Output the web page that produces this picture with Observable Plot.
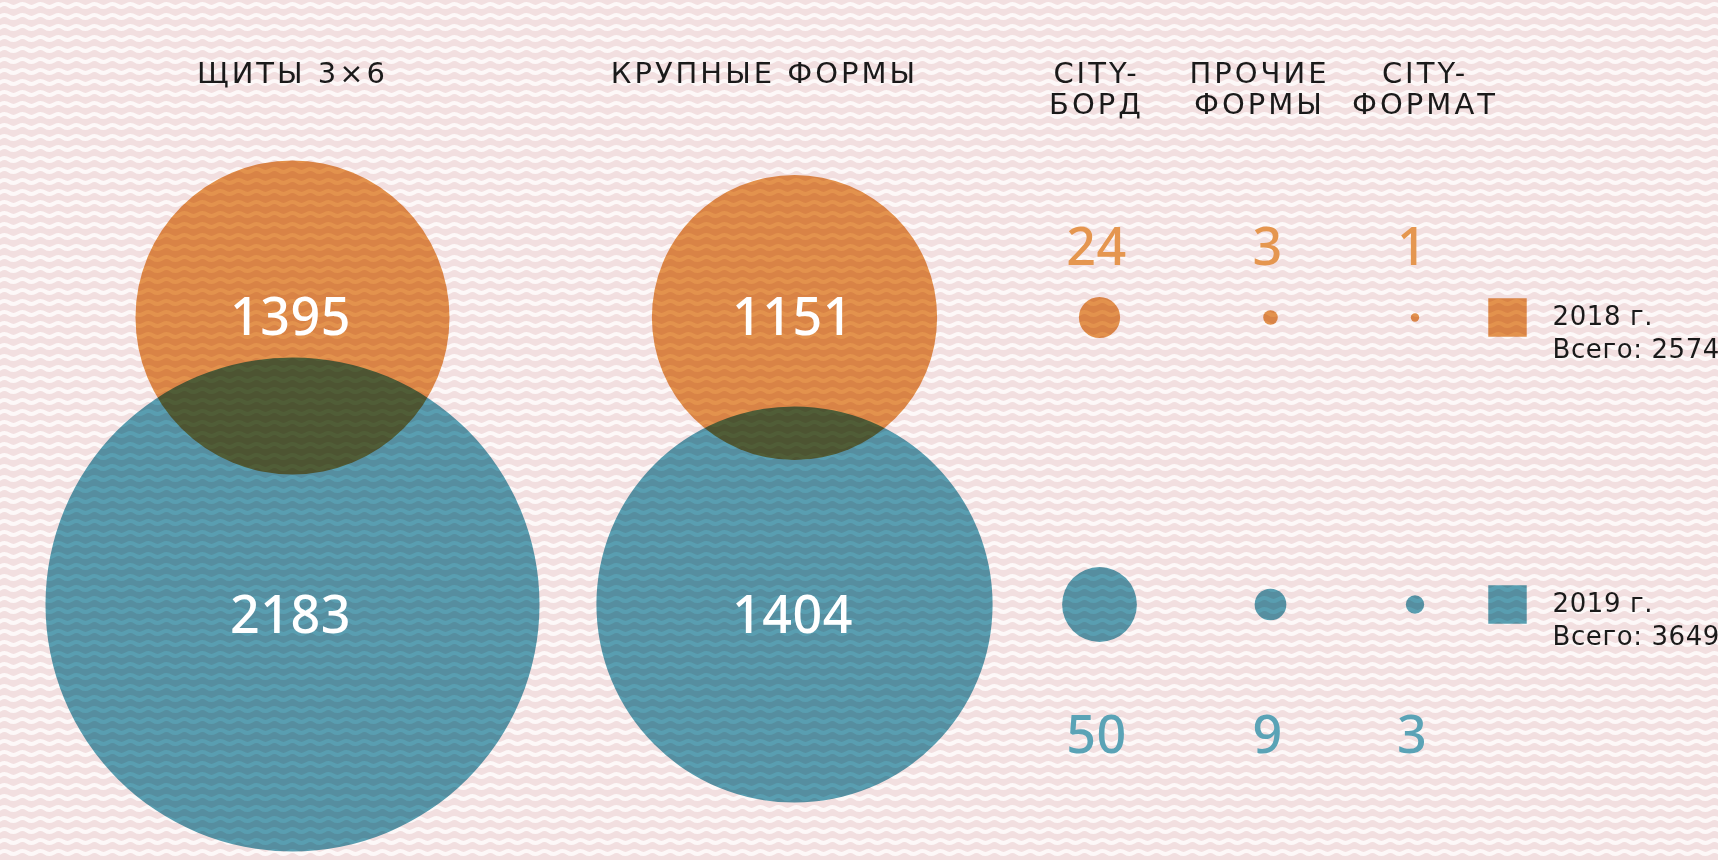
<!DOCTYPE html>
<html>
<head>
<meta charset="utf-8">
<script src="https://cdn.jsdelivr.net/npm/d3@7"></script>
<script src="https://cdn.jsdelivr.net/npm/@observablehq/plot@0.6"></script>
<style>
  html, body { margin: 0; padding: 0; background: #fff; overflow: hidden; }
  #chart { position: relative; width: 1718px; height: 860px; overflow: hidden; background-color: #f2dfe0; }
  #chart svg { position: absolute; left: 0; top: 0; }
  #chart svg.blend { mix-blend-mode: multiply; }
  #chart .cat, #chart .cat text { letter-spacing: 3px; }
  #chart .leg, #chart .leg text { letter-spacing: 0.6px; }
  #chart .num, #chart .num text { letter-spacing: 0.5px; }
</style>
</head>
<body>
<div id="chart"></div>
<script>
// ---- data ----
const categories = ["ЩИТЫ 3×6", "КРУПНЫЕ ФОРМЫ", "CITY-\nБОРД", "ПРОЧИЕ\nФОРМЫ", "CITY-\nФОРМАТ"];
const values2018 = [1395, 1151, 24, 3, 1];
const values2019 = [2183, 1404, 50, 9, 3];
const years = ["2018", "2019"];
const yearLabels = ["2018 г.", "2019 г."];
const totals = [2574, 3649];
const totalPrefix = "Всего: ";

// ---- style / layout ----
const ORANGE = "#e5964f";
const BLUE = "#5aa3b6";
const W = 1718, H = 860;
const colCenters = [292, 794, 1099, 1270, 1414.5, 1507]; // 5 categories + legend column
const labelShift = [0, -30, -3, -11, 10];
const LABEL_FONT = "'DejaVu Sans', 'Noto Sans', sans-serif";
const NUM_FONT = "'Noto Sans', 'DejaVu Sans', sans-serif";

// wave background tile
const tile = `<svg xmlns='http://www.w3.org/2000/svg' width='18' height='11'><rect width='18' height='11' fill='#f2dfe0'/><path d='M-9,5.5 Q-4.5,8.5 0,5.5 T9,5.5 T18,5.5 T27,5.5' fill='none' stroke='#fdf8f8' stroke-width='4'/></svg>`;
document.getElementById("chart").style.backgroundImage = `url("data:image/svg+xml,${encodeURIComponent(tile)}")`;

const rows = years.flatMap((yr, j) => categories.map((c, i) => ({
  col: i, cat: c, year: yr, value: (j === 0 ? values2018 : values2019)[i], big: i < 2
})));
const legendRows = years.map((yr, j) => ({
  col: 5, year: yr, label: `${yearLabels[j]}\n${totalPrefix}${totals[j]}`
}));

const base = (extra) => Object.assign({
  width: W, height: H, margin: 0,
  style: {background: "transparent", overflow: "visible"},
  x: {type: "linear", domain: [0, 1, 2, 3, 4, 5], range: colCenters, axis: null},
  y: {type: "point", domain: years, range: [317, 604.5], padding: 0, axis: null}
}, extra);

const chart = document.getElementById("chart");

// 2018 layer
const p2018 = Plot.plot(base({
  r: {type: "sqrt", domain: [0, d3.max(values2018)], range: [0, 157]},
  marks: [
    Plot.dot(rows.filter(d => d.year === "2018"), {x: "col", y: "year", r: "value", fill: ORANGE, stroke: null}),
    Plot.dot(legendRows.filter(d => d.year === "2018"), {x: "col", y: "year", symbol: "square", r: 21.7, fill: ORANGE, stroke: null})
  ]
}));
p2018.classList.add("blend");
chart.appendChild(p2018);

// 2019 layer
const p2019 = Plot.plot(base({
  r: {type: "sqrt", domain: [0, d3.max(values2019)], range: [0, 247]},
  marks: [
    Plot.dot(rows.filter(d => d.year === "2019"), {x: "col", y: "year", r: "value", fill: BLUE, stroke: null}),
    Plot.dot(legendRows.filter(d => d.year === "2019"), {x: "col", y: "year", symbol: "square", r: 21.7, fill: BLUE, stroke: null})
  ]
}));
p2019.classList.add("blend");
chart.appendChild(p2019);

// text layer
const labelMarks = categories.map((c, i) => Plot.text([c], {
  x: () => i, frameAnchor: "top", dy: 60, dx: labelShift[i], lineAnchor: "top", lineHeight: 1.07,
  text: d => d, fontSize: 29, fontWeight: 400, fontFamily: LABEL_FONT, fill: "#1a1a1a", className: "cat"
}));
const numStyle = {fontSize: 52, fontWeight: 500, fontFamily: NUM_FONT, className: "num"};
const pText = Plot.plot(base({
  marks: [
    ...labelMarks,
    Plot.text(rows.filter(d => d.big && d.year === "2018"), {x: "col", y: "year", dx: -2, dy: 1, text: d => String(d.value), fill: "white", ...numStyle}),
    Plot.text(rows.filter(d => d.big && d.year === "2019"), {x: "col", y: "year", dx: -2, dy: 12, text: d => String(d.value), fill: "white", ...numStyle}),
    Plot.text(rows.filter(d => !d.big && d.year === "2018"), {x: "col", y: "year", dx: -3, dy: -69, text: d => String(d.value), fill: ORANGE, ...numStyle}),
    Plot.text(rows.filter(d => !d.big && d.year === "2019"), {x: "col", y: "year", dx: -3, dy: 132, text: d => String(d.value), fill: BLUE, ...numStyle}),
    Plot.text(legendRows, {x: "col", y: "year", text: "label", dx: 45, dy: -17, textAnchor: "start", lineAnchor: "top", lineHeight: 1.3, fontSize: 26, fontWeight: 400, fontFamily: LABEL_FONT, fill: "#1a1a1a", className: "leg"})
  ]
}));
pText.classList.add("labels");
chart.appendChild(pText);
</script>
</body>
</html>
